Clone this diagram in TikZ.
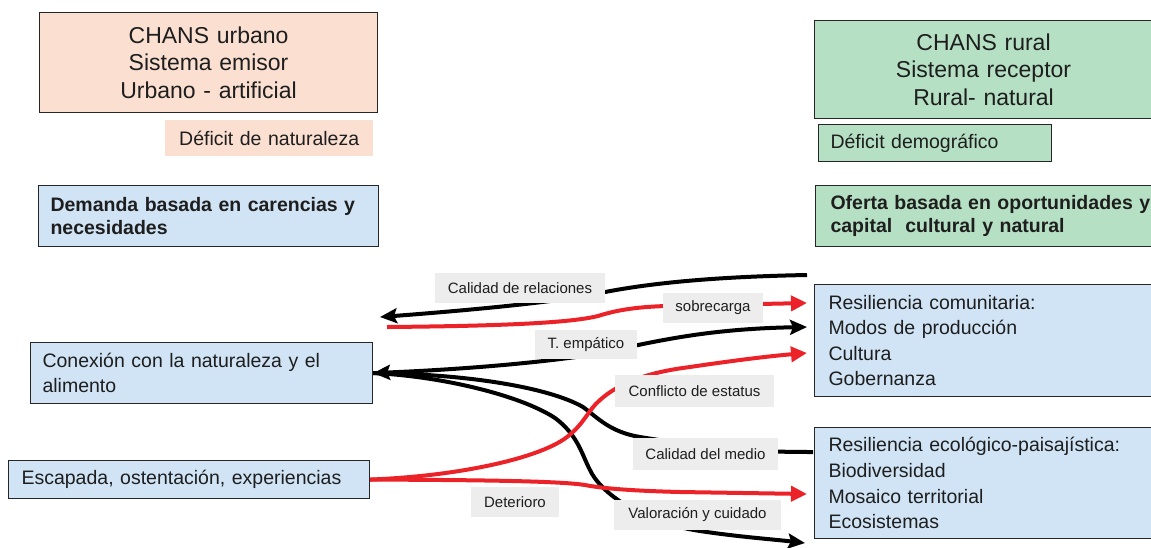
\documentclass[tikz,border=0pt]{standalone}
\usepackage{fontspec}
\setmainfont{Liberation Sans}
\usetikzlibrary{arrows.meta}
\definecolor{peach}{HTML}{FBE0D2}
\definecolor{mint}{HTML}{B5E0C4}
\definecolor{lblue}{HTML}{D0E4F5}
\definecolor{lgray}{HTML}{EDEDED}
\definecolor{txt}{HTML}{1E1E1E}
\definecolor{rred}{HTML}{EC2229}
\begin{document}
\begin{tikzpicture}[x=1pt,y=-1pt,
  box/.style={draw=black!85, line width=1.1pt, anchor=north west, inner ysep=0pt, text=txt, align=left},
  nobox/.style={anchor=north west, inner ysep=0pt, text=txt},
  body/.style={font=\fontsize{19.5}{24.5}\selectfont},
  bodyb/.style={font=\fontsize{19.5}{23.5}\selectfont\bfseries},
  title/.style={font=\fontsize{23}{27.5}\selectfont, align=center},
  lab/.style={fill=lgray, text=txt, inner sep=0pt, font=\fontsize{15}{18}\selectfont},
  blk/.style={line width=4pt, black},
  red/.style={line width=4pt, rred},
  btip/.style={-{Stealth[length=17pt,width=15pt,inset=3pt]}},
  rtip/.style={-{Triangle[length=16pt,width=15pt]}}
]
\useasboundingbox (0,0) rectangle (1151,547);

% boxes
\node[box, fill=peach, title, minimum height=100pt, text width=318pt, inner xsep=10pt] (urb) at (39,12)
  {CHANS urbano\\Sistema emisor\\Urbano - artificial};
\node[nobox, fill=peach, body, align=center, minimum height=36pt, text width=188pt, inner xsep=10pt] (defnat) at (165,120)
  {Déficit de naturaleza};
\node[box, fill=lblue, bodyb, minimum height=61pt, text width=316pt, inner xsep=12pt] (dem) at (38,185)
  {Demanda basada en carencias y\\necesidades};

\node[box, fill=mint, title, minimum height=98pt, text width=318pt, inner xsep=10pt] (rur) at (814,20)
  {CHANS rural\\Sistema receptor\\Rural- natural};
\node[box, fill=mint, body, minimum height=37pt, text width=209pt, inner xsep=12pt] (defdem) at (818,124)
  {Déficit demográfico};
\node[box, fill=mint, bodyb, minimum height=61pt, text width=325pt, inner xsep=15pt] (ofe) at (815,185)
  {Oferta basada en oportunidades y\\capital\ \ cultural y natural};

\node[box, fill=lblue, body, font=\fontsize{19.5}{25.5}\selectfont, minimum height=112pt, text width=325pt, inner xsep=14pt] (rescom) at (814,284)
  {Resiliencia comunitaria:\\Modos de producción\\Cultura\\Gobernanza};
\node[box, fill=lblue, body, font=\fontsize{19.5}{25.8}\selectfont, minimum height=111pt, text width=325pt, inner xsep=14pt] (reseco) at (814,427)
  {Resiliencia ecológico-paisajística:\\Biodiversidad\\Mosaico territorial\\Ecosistemas};

\node[box, fill=lblue, body, minimum height=61pt, text width=318pt, inner xsep=12pt] (conex) at (30,342)
  {Conexión con la naturaleza y el\\alimento};
\node[box, fill=lblue, body, minimum height=38pt, text width=335pt, inner xsep=13pt] (escap) at (8,460)
  {Escapada, ostentación, experiencias};

% free ends of connectors
\coordinate (crR) at (807,275);
\coordinate (crL) at (380,317);
\coordinate (sbL) at (387,327);
\coordinate (sbR) at (807,303);
\coordinate (teR) at (807,327);
\coordinate (cfR) at (807,353);
\coordinate (cmR) at (813,452);
\coordinate (dtR) at (807,494);
\coordinate (vcR) at (805,543);

% black connectors
\draw[blk, btip] (crR) .. controls (700,277) and (640,285) .. (600,293)
  .. controls (560,302) and (460,311) .. (crL);
\draw[blk, {Stealth[length=17pt,width=15pt,inset=3pt]}-{Stealth[length=17pt,width=15pt,inset=3pt]}]
  (conex.east) .. controls (450,370) and (530,364) .. (590,355)
  .. controls (650,343) and (700,329) .. (teR);
\draw[blk] (conex.east) .. controls (470,374) and (550,388) .. (583,407)
  .. controls (598,418) and (610,432) .. (640,437)
  .. controls (720,450) and (760,452) .. (cmR);
\draw[blk, btip] (conex.east) .. controls (440,376) and (520,395) .. (555,418)
  .. controls (578,435) and (582,455) .. (590,470)
  .. controls (600,492) and (640,522) .. (700,531)
  .. controls (740,537) and (770,539) .. (vcR);

% red connectors
\draw[red, rtip] (sbL) .. controls (500,326) and (570,323) .. (598,316)
  .. controls (620,309) and (640,307) .. (665,306) -- (sbR);
\draw[red, rtip] (escap.east) .. controls (460,476) and (540,458) .. (567,437)
  .. controls (585,423) and (588,410) .. (600,400)
  .. controls (620,382) and (650,372) .. (690,367)
  .. controls (730,361) and (770,356) .. (cfR);
\draw[red, rtip] (escap.east) .. controls (480,480) and (560,481) .. (585,485)
  .. controls (605,489) and (640,491) .. (680,492) -- (dtR);

% labels
\node[lab, minimum width=170pt, minimum height=30pt] (l1) at (520,288) {Calidad de relaciones};
\node[lab, minimum width=100pt, minimum height=30pt] (l2) at (713,308) {sobrecarga};
\node[lab, minimum width=102pt, minimum height=29pt] (l3) at (586,344.5) {T. empático};
\node[lab, minimum width=159pt, minimum height=32pt] (l4) at (694.5,391) {Conflicto de estatus};
\node[lab, minimum width=145pt, minimum height=32pt] (l5) at (705.5,454) {Calidad del medio};
\node[lab, minimum width=88pt, minimum height=30pt] (l6) at (515,502) {Deterioro};
\node[lab, minimum width=167pt, minimum height=30pt] (l7) at (697.5,515) {Valoración y cuidado};
\end{tikzpicture}
\end{document}
